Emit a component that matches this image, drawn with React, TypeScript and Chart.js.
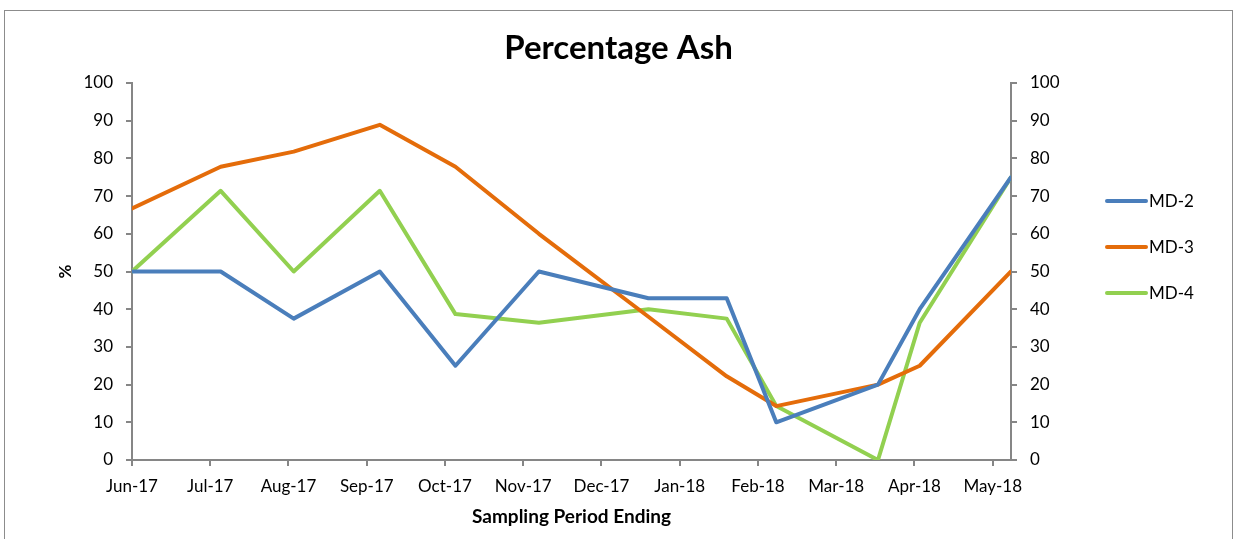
import React, { useEffect, useRef } from 'react';
import { Chart, registerables } from 'chart.js';

Chart.register(...registerables);

// Month tick labels (one every 30 days from the first sample)
const monthLabels = ['Jun-17', 'Jul-17', 'Aug-17', 'Sep-17', 'Oct-17', 'Nov-17', 'Dec-17', 'Jan-18', 'Feb-18', 'Mar-18', 'Apr-18', 'May-18'];
// Sampling dates, as days after the first sample
const sampleDays = [0, 34, 62, 95, 124, 156, 198, 228, 247, 286, 302, 337];
const md2 = [50, 50, 37.5, 50, 25, 50, 42.9, 42.9, 10, 20, 40, 75];
const md3 = [66.7, 77.8, 81.8, 88.9, 77.8, 60, 38, 22.2, 14.3, 20, 25, 50];
const md4 = [50, 71.4, 50, 71.4, 38.7, 36.4, 40, 37.5, 14.3, 0, 36.4, 75];
const seriesNames = ['MD-2', 'MD-3', 'MD-4'];
const seriesColors = ['#4A7EBB', '#E46C0A', '#92D050'];

const FONT = 'Lato, "Open Sans", "DejaVu Sans", sans-serif';
const AXIS_COLOR = '#868686';

const legendPlugin = {
  id: 'sideLegend',
  afterDraw(chart: any) {
    const { ctx, chartArea } = chart;
    const x0 = chartArea.right + 94;
    const y0 = chartArea.top + 118;
    ctx.save();
    chart.data.datasets.forEach((ds: any, i: number) => {
      const y = y0 + i * 46;
      ctx.strokeStyle = ds.borderColor;
      ctx.lineWidth = 4;
      ctx.lineCap = 'round';
      ctx.beginPath();
      ctx.moveTo(x0 + 2, y);
      ctx.lineTo(x0 + 41, y);
      ctx.stroke();
      ctx.fillStyle = '#000';
      ctx.font = `17px ${FONT}`;
      ctx.textBaseline = 'middle';
      ctx.textAlign = 'left';
      ctx.fillText(ds.label, x0 + 44, y + 1);
    });
    ctx.restore();
  },
};

export default function App() {
  const ref = useRef<HTMLCanvasElement>(null);

  useEffect(() => {
    const series = [md2, md3, md4];
    const datasets = series.map((vals, i) => ({
      label: seriesNames[i],
      data: vals.map((v, j) => ({ x: sampleDays[j], y: v })),
      borderColor: seriesColors[i],
      backgroundColor: seriesColors[i],
      borderWidth: 4,
      pointRadius: 0,
      borderJoinStyle: 'round' as const,
      borderCapStyle: 'round' as const,
      tension: 0,
    }));

    const tickFont = { family: FONT, size: 17 };
    const chart = new Chart(ref.current!, {
      type: 'line',
      data: { datasets },
      plugins: [legendPlugin],
      options: {
        animation: false,
        responsive: false,
        devicePixelRatio: 1,
        layout: { padding: 0 },
        plugins: {
          legend: { display: false },
          tooltip: { enabled: false },
          title: {
            display: true,
            text: 'Percentage Ash',
            color: '#000',
            font: { family: FONT, size: 33, weight: 'bold' },
            padding: { top: 28.2, bottom: 15.2 },
          },
        },
        scales: {
          x: {
            type: 'linear',
            min: sampleDays[0],
            max: sampleDays[sampleDays.length - 1],
            afterFit: (s: any) => { s.height = 79; },
            ticks: {
              stepSize: 30,
              includeBounds: false,
              autoSkip: false,
              maxRotation: 0,
              color: '#000',
              font: tickFont,
              padding: 10,
              callback: (v: any) => monthLabels[Math.round(Number(v) / 30)] ?? '',
            },
            grid: { drawOnChartArea: false, drawTicks: true, tickLength: 6, color: AXIS_COLOR, lineWidth: 2 },
            border: { color: AXIS_COLOR, width: 2 },
            title: {
              display: true,
              text: 'Sampling Period Ending',
              color: '#000',
              font: { family: FONT, size: 19, weight: 'bold' },
              padding: { top: 0, bottom: 10.6 },
            },
          },
          y: {
            position: 'left',
            min: 0,
            max: 100,
            afterFit: (s: any) => { s.width = 132; },
            ticks: { stepSize: 10, color: '#000', font: tickFont, padding: 13 },
            grid: { drawOnChartArea: false, drawTicks: true, tickLength: 6, color: AXIS_COLOR, lineWidth: 2 },
            border: { color: AXIS_COLOR, width: 2 },
            title: {
              display: true,
              text: '%',
              color: '#000',
              font: { family: FONT, size: 17, weight: 'bold' },
              padding: { top: 55, bottom: 0 },
            },
          },
          y2: {
            position: 'right',
            min: 0,
            max: 100,
            afterFit: (s: any) => { s.width = 226; },
            ticks: { stepSize: 10, color: '#000', font: tickFont, padding: 13 },
            grid: { drawOnChartArea: false, drawTicks: true, tickLength: 6, color: AXIS_COLOR, lineWidth: 2 },
            border: { color: AXIS_COLOR, width: 2 },
          },
        },
      },
    });
    return () => chart.destroy();
  }, []);

  return (
    <div>
      <canvas
        ref={ref}
        width={1237}
        height={539}
        style={{ position: 'fixed', left: 0, top: 0, width: 1237, height: 539 }}
      />
      <div
        style={{
          position: 'fixed',
          left: 4,
          top: 10,
          width: 1229,
          height: 560,
          border: '1px solid #8c8c8c',
          boxSizing: 'border-box',
          pointerEvents: 'none',
        }}
      />
    </div>
  );
}
